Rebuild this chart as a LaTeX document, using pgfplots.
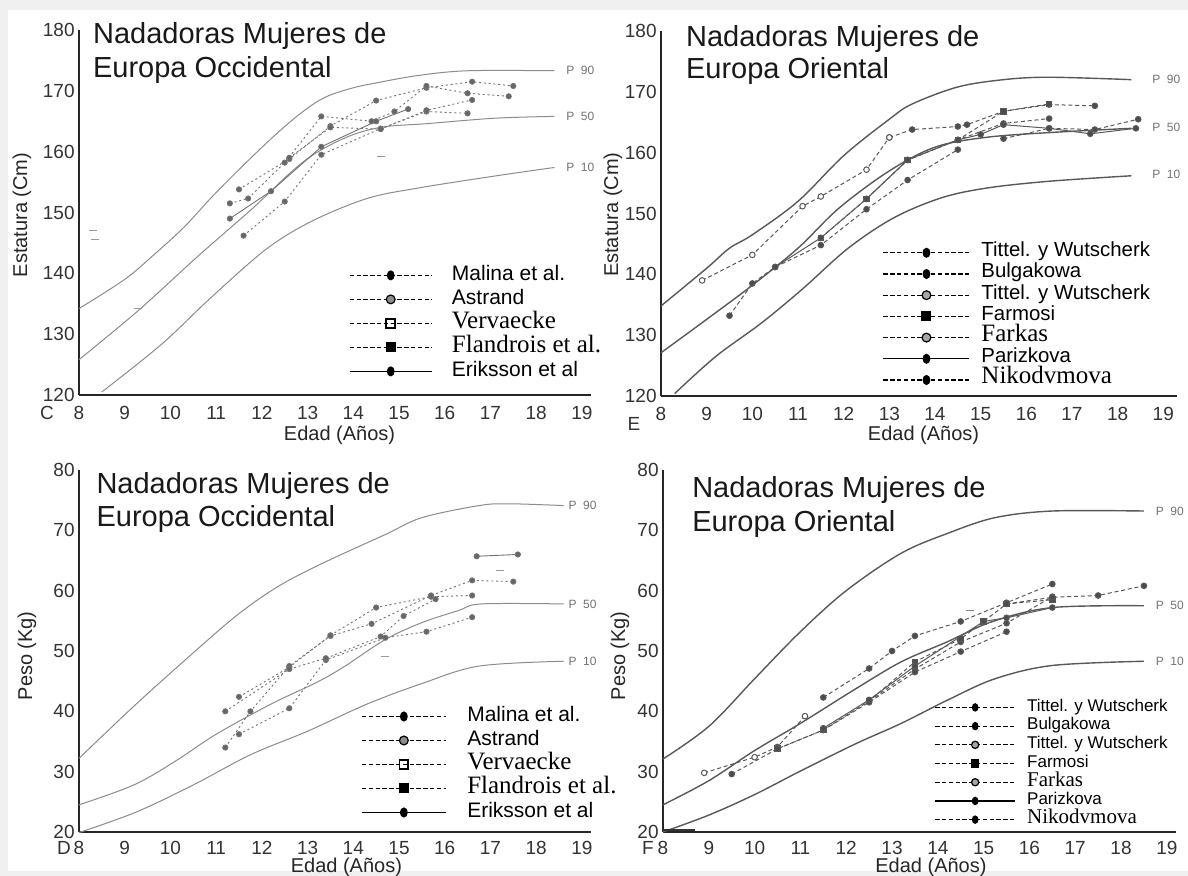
\documentclass[border=0pt]{standalone}
\usepackage{fontspec}
\setmainfont{Liberation Sans}
\newfontfamily\serifF{Liberation Serif}
\usepackage{pgfplots}
\pgfplotsset{compat=1.18}
\definecolor{bgframe}{HTML}{F0F0F0}
\newcommand{\fs}[1]{\fontsize{#1}{#1}\selectfont}
\tikzset{
  plab/.style={font=\fs{6}, text=black!55, anchor=west, inner sep=0pt},
  ttl/.style={font=\fs{14.5}, text=black!90, anchor=base west, inner sep=0pt},
  lett/.style={font=\fs{9.5}, text=black!80, anchor=center, inner sep=0pt},
}
\pgfplotsset{
  panel/.style={
    scale only axis, anchor=south west,
    axis x line=bottom, axis y line=left,
    axis line style={-, line width=1.1pt, black!85},
    xmin=8, xtick={8,...,19},
    major tick length=0pt,
    tick style={draw=none},
    tick label style={font=\fs{9.5}, text=black!80},
    xticklabel style={anchor=center, yshift=-9pt},
    yticklabel style={anchor=east, inner sep=0pt, xshift=-2pt},
    /pgf/number format/assume math mode=true,
    clip=false,
    label style={font=\fs{10}, text=black!85},
    legend cell align=left,
  },
  pctC/.style={black!45, line width=0.5pt, smooth, tension=0.55, forget plot},
  pctE/.style={black!65, line width=0.7pt, smooth, tension=0.55, forget plot},
  serC/.style={black!55, line width=0.45pt, dash pattern=on 1pt off 1.4pt, mark=*, mark size=1.3pt, mark options={solid, fill=black!60}, forget plot},
  serE/.style={black!65, line width=0.5pt, dash pattern=on 2pt off 1.4pt, mark=*, mark size=1.4pt, mark options={solid, fill=black!70}, forget plot},
  leg/.style={black, line width=0.6pt, dash pattern=on 2.2pt off 1.2pt, mark size=2.2pt, mark options={solid}},
  legs/.style={black, line width=0.6pt, mark size=2.2pt, mark options={solid}},
}
\begin{document}
\begin{tikzpicture}[x=1pt,y=1pt]
\fill[bgframe] (0,0) rectangle (594,438);
\fill[white] (4,2.5) rectangle (594,433);
\useasboundingbox (0,0) rectangle (594,438);

% ---------------- Panel C ----------------
\begin{axis}[panel, at={(39.5pt,240.5pt)}, width=256pt, height=182.5pt,
  xmax=19.2, ymin=120, ymax=180, ytick={120,130,...,180},
  xlabel={Edad (Años)}, ylabel={Estatura (Cm)},
  xlabel style={at={(axis cs:13.7,120)}, anchor=center, yshift=-20pt},
  ylabel style={at={(axis cs:6.75,149.6)}, anchor=center},
  legend style={at={(axis cs:13.9,141.7)}, anchor=north west, draw=none, fill=none, inner sep=0pt, row sep=0pt, font=\fs{10.5},
    nodes={inner sep=0pt, text height=8.4pt, text depth=3.6pt},
    /tikz/every odd column/.append style={column sep=9.8pt}},
  legend image code/.code={\draw[mark repeat=2,mark phase=2,#1] plot coordinates {(0pt,0pt)(20.5pt,0pt)(41pt,0pt)};},
]
\addplot[pctC] coordinates {(8,134.2)(9,139)(9.6,142.8)(10.3,147.6)(10.9,152.5)(11.6,157.8)(12.3,162.8)(12.9,166.6)(13.4,169)(14,170.5)(14.5,171.3)(15.4,172.5)(16.5,173.3)(18.4,173.3)};
\addplot[pctC] coordinates {(8,125.8)(9.3,133.9)(10.6,142.8)(11.8,150.7)(12.9,158.3)(13.8,162.2)(14.6,164)(15.6,164.6)(17.1,165.5)(18.4,165.8)};
\addplot[pctC] coordinates {(8.5,120.5)(9.8,128.3)(10.9,136.1)(12.1,144)(13.1,148.6)(14.3,152.3)(15.4,154)(17.1,156)(18.4,157.4)};
\addplot[serC] coordinates {(11.5,153.8)(12.6,158.8)(13.5,164.2)(14.5,168.4)(15.6,170.5)(16.6,171.5)(17.5,170.8)};
\addplot[serC] coordinates {(11.6,146.2)(12.5,151.8)(13.3,159.5)(14.6,163.8)(15.6,166.6)(16.5,166.3)};
\addplot[serC] coordinates {(11.3,151.5)(11.7,152.3)(12.5,158.2)(13.3,165.8)(14.4,165)(14.9,166.6)(15.6,170.8)(16.5,169.6)(17.4,169.1)};
\addplot[serC] coordinates {(12.6,159)(13.5,164)(14.6,163.7)(15.6,166.8)(16.6,168.5)};
\addplot[serC, solid] coordinates {(11.3,149)(12.2,153.5)(13.3,160.8)(14.5,165)(15.2,167)};
\addplot[black!40, only marks, mark=-, mark size=2pt, forget plot] coordinates {(8.3,147)(8.35,145.6)(9.3,134.3)(14.6,159.3)};
\node[plab] at (axis cs:18.65,173.3) {P\ \ 90};
\node[plab] at (axis cs:18.65,165.8) {P\ \ 50};
\node[plab] at (axis cs:18.65,157.4) {P\ \ 10};
\node[ttl] at (axis cs:8.3,177.7) {Nadadoras Mujeres de};
\node[ttl] at (axis cs:8.3,172.2) {Europa Occidental};
\node[lett] at (axis cs:7.3,120) [yshift=-9pt] {C};
\addlegendimage{leg, mark=*, mark options={solid, xscale=0.75}}
\addlegendentry{Malina et al.}
\addlegendimage{leg, mark=*, mark options={solid, fill=black!45}}
\addlegendentry{Astrand}
\addlegendimage{leg, mark=square, mark options={solid, line width=0.9pt}}
\addlegendentry{\fs{12.5}\serifF Vervaecke}
\addlegendimage{leg, mark=square*}
\addlegendentry{\fs{12.5}\serifF Flandrois et al.}
\addlegendimage{legs, mark=*, mark options={solid, xscale=0.75}}
\addlegendentry{Eriksson et al}
\end{axis}

% ---------------- Panel E ----------------
\begin{axis}[panel, at={(330.5pt,240pt)}, width=258pt, height=182.5pt,
  xmax=19.3, ymin=120, ymax=180, ytick={120,130,...,180},
  xlabel={Edad (Años)}, ylabel={Estatura (Cm)},
  xlabel style={at={(axis cs:13.75,120)}, anchor=center, yshift=-19.5pt},
  ylabel style={at={(axis cs:6.95,149.8)}, anchor=center},
  legend style={at={(axis cs:12.85,145.35)}, anchor=north west, draw=none, fill=none, inner sep=0pt, row sep=0pt, font=\fs{10.2},
    nodes={inner sep=0pt, text height=7.3pt, text depth=3.3pt},
    /tikz/every odd column/.append style={column sep=5.7pt}},
  legend image code/.code={\draw[mark repeat=2,mark phase=2,#1] plot coordinates {(0pt,0pt)(21.5pt,0pt)(43pt,0pt)};},
]
\addplot[pctE] coordinates {(8,134.8)(9,141)(9.5,144.3)(10,146.5)(11,152)(12,159.5)(13,165.5)(13.5,168)(14.5,170.8)(15.5,172)(16.5,172.4)(18.3,172)};
\addplot[pctE] coordinates {(8,127.1)(9,132.6)(10,138.2)(11,144.3)(11.9,150.9)(13,157)(14,160.9)(15.1,162.5)(16.5,163.3)(18.3,164)};
\addplot[pctE] coordinates {(8.3,120.4)(9.2,126.5)(10.2,132)(11.1,137.6)(12.1,144.3)(13.1,149.3)(14.15,152.6)(15.15,154.2)(16.5,155.3)(18.3,156.2)};
\addplot[serE] coordinates {(13,162.5)(13.5,163.8)(14.5,164.3)(14.7,164.6)(15.5,166.8)(16.5,167.9)(17.5,167.7)};
\addplot[serE] coordinates {(12.5,152.4)(13.4,158.8)(14.5,162.1)(15.5,164.8)(16.5,165.6)};
\addplot[serE, mark options={solid, fill=white}] coordinates {(8.9,139)(10,143.2)(11.1,151.2)(11.5,152.8)(12.5,157.2)(13,162.5)};
\addplot[serE, mark=square*] coordinates {(11.5,146)(12.5,152.4)(13.4,158.8)(14.5,162.1)(15.5,166.8)(16.5,168)};
\addplot[serE] coordinates {(9.5,133.2)(10,138.5)(10.5,141.2)(11.5,144.8)(12.5,150.7)(13.4,155.5)(14.5,160.5)};
\addplot[serE, solid] coordinates {(10.5,141.2)(11.5,146)(12.5,152.4)(13.4,158.8)(14.5,162.1)(15,163)(15.5,164.6)(16.5,164)(17.4,163.1)(18.4,164)};
\addplot[serE] coordinates {(15.5,162.3)(16.5,164)(17.5,163.8)(18.45,165.5)};
\node[plab] at (axis cs:18.75,172) {P\ \ 90};
\node[plab] at (axis cs:18.75,164.2) {P\ \ 50};
\node[plab] at (axis cs:18.75,156.5) {P\ \ 10};
\node[ttl] at (axis cs:8.54,177.5) {Nadadoras Mujeres de};
\node[ttl] at (axis cs:8.54,172.2) {Europa Oriental};
\node[lett] at (axis cs:7.41,120) [yshift=-14pt] {E};
\addlegendimage{leg, mark=*, mark options={solid, xscale=0.75}}
\addlegendentry{Tittel. y Wutscherk}
\addlegendimage{leg, mark=*, mark options={solid, xscale=0.75}}
\addlegendentry{Bulgakowa}
\addlegendimage{leg, mark=*, mark options={solid, fill=black!35}}
\addlegendentry{Tittel. y Wutscherk}
\addlegendimage{leg, mark=square*}
\addlegendentry{Farmosi}
\addlegendimage{leg, mark=*, mark options={solid, fill=black!35}}
\addlegendentry{\fs{12.5}\serifF Farkas}
\addlegendimage{legs, mark=*, mark options={solid, xscale=0.75}}
\addlegendentry{Parizkova}
\addlegendimage{leg, mark=*, mark options={solid, xscale=0.75}}
\addlegendentry{\fs{12.5}\serifF Nikodvmova}
\end{axis}

% ---------------- Panel D ----------------
\begin{axis}[panel, at={(39.5pt,22pt)}, width=256pt, height=181pt,
  xmax=19.2, ymin=20, ymax=80, ytick={20,30,...,80},
  xticklabel style={yshift=1pt},
  xlabel={Edad (Años)}, ylabel={Peso (Kg)},
  xlabel style={at={(axis cs:13.85,20)}, anchor=center, yshift=-17.5pt},
  ylabel style={at={(axis cs:6.86,49.2)}, anchor=center},
  legend style={at={(axis cs:14.17,41.2)}, anchor=north west, draw=none, fill=none, inner sep=0pt, row sep=0pt, font=\fs{10.5},
    nodes={inner sep=0pt, text height=8.4pt, text depth=3.6pt},
    /tikz/every odd column/.append style={column sep=10.5pt}},
  legend image code/.code={\draw[mark repeat=2,mark phase=2,#1] plot coordinates {(0pt,0pt)(20.9pt,0pt)(41.8pt,0pt)};},
]
\addplot[pctC] coordinates {(8,32.2)(9.25,41.2)(10.5,49.7)(11.5,56.2)(12.4,60.9)(13.4,64.8)(14.7,69.3)(15.5,72.1)(16.75,74.1)(17.4,74.4)(18.6,74.1)};
\addplot[pctC] coordinates {(8,24.5)(9.2,27.8)(10.1,31.7)(11,36.2)(12.2,41.2)(13.2,44.8)(13.8,47.4)(14.7,51.9)(15.5,54.7)(16.3,56.7)(16.8,57.8)(18.6,57.8)};
\addplot[pctC] coordinates {(8,19.9)(9.25,23.3)(10.5,27.8)(11.75,32.8)(13,36.7)(14.3,41.2)(15.5,44.6)(16.75,47.5)(18.6,48.3)};
\addplot[serC] coordinates {(11.5,42.4)(12.6,47.3)(13.5,52.6)(14.5,57.2)(15.7,59)(16.6,59.2)};
\addplot[serC] coordinates {(11.5,36.2)(12.6,40.5)(13.4,48.5)(14.7,52.2)(15.6,53.2)(16.6,55.6)};
\addplot[serC] coordinates {(11.2,34)(11.75,40)(12.6,47.5)(13.5,52.5)(14.4,54.5)(15.7,59.2)(16.6,61.7)(17.5,61.5)};
\addplot[serC] coordinates {(11.2,40)(12.6,47)(13.4,48.8)(14.6,52.4)(15.1,55.8)(15.8,58.6)};
\addplot[serC, solid] coordinates {(16.7,65.7)(17.6,66)};
\addplot[black!40, only marks, mark=-, mark size=2pt, forget plot] coordinates {(17.2,63.4)(14.7,49.1)};
\node[plab] at (axis cs:18.7,74.1) {P\ \ 90};
\node[plab] at (axis cs:18.7,57.8) {P\ \ 50};
\node[plab] at (axis cs:18.7,48.3) {P\ \ 10};
\node[ttl] at (axis cs:8.375,76.1) {Nadadoras Mujeres de};
\node[ttl] at (axis cs:8.375,70.7) {Europa Occidental};
\node[lett] at (axis cs:7.67,20) [yshift=-8pt] {D};
\addlegendimage{leg, mark=*, mark options={solid, xscale=0.75}}
\addlegendentry{Malina et al.}
\addlegendimage{leg, mark=*, mark options={solid, fill=black!45}}
\addlegendentry{Astrand}
\addlegendimage{leg, mark=square, mark options={solid, line width=0.9pt}}
\addlegendentry{\fs{12.5}\serifF Vervaecke}
\addlegendimage{leg, mark=square*}
\addlegendentry{\fs{12.5}\serifF Flandrois et al.}
\addlegendimage{legs, mark=*, mark options={solid, xscale=0.75}}
\addlegendentry{Eriksson et al}
\end{axis}

% ---------------- Panel F ----------------
\begin{axis}[panel, at={(331.5pt,22pt)}, width=256.5pt, height=181pt,
  xmax=19.2, ymin=20, ymax=80, ytick={20,30,...,80},
  xticklabel style={yshift=1pt},
  xlabel={Edad (Años)}, ylabel={Peso (Kg)},
  xlabel style={at={(axis cs:13.85,20)}, anchor=center, yshift=-17.5pt},
  ylabel style={at={(axis cs:7.06,49.2)}, anchor=center},
  legend style={at={(axis cs:13.92,42.26)}, anchor=north west, draw=none, fill=none, inner sep=0pt, row sep=0pt, font=\fs{8.5},
    nodes={inner sep=0pt, text height=6.6pt, text depth=2.75pt},
    /tikz/every odd column/.append style={column sep=5.7pt}},
  legend image code/.code={\draw[mark repeat=2,mark phase=2,#1] plot coordinates {(0pt,0pt)(20pt,0pt)(40pt,0pt)};},
]
\addplot[pctE] coordinates {(8,32.1)(9,37.5)(10,45.4)(11,53.2)(12,60)(13.2,66.2)(14.25,69.6)(15.25,72.1)(16.5,73.2)(18.5,73.2)};
\addplot[pctE] coordinates {(8,24.5)(9,28.5)(10,33.5)(11,38)(12.2,43.7)(13.2,48.2)(14.2,51.5)(15.2,54.9)(16.5,57.2)(18.5,57.5)};
\addplot[pctE] coordinates {(8,20)(9,22.8)(10,26.2)(11,30.1)(12.2,34.6)(13.2,38)(14.25,42)(15.25,45.4)(16.5,47.6)(18.5,48.3)};
\addplot[black!80, line width=1pt, forget plot] coordinates {(8,20.3)(8.7,20.3)};
\addplot[serE] coordinates {(11.5,42.3)(12.5,47.1)(13,50)(13.5,52.5)(14.5,54.9)(15.5,58)(16.5,61.1)};
\addplot[serE] coordinates {(12.5,41.7)(13.5,47)(14.5,51.5)(15.5,54.6)(16.5,59)};
\addplot[serE, mark options={solid, fill=white}] coordinates {(8.9,29.8)(10,32.4)(10.5,34.1)(11.1,39.2)};
\addplot[serE, mark=square*] coordinates {(10.5,33.8)(11.5,36.9)(12.5,41.7)(13.5,48.2)(14.5,52)(15,54.9)(15.5,57.8)(16.5,58.5)};
\addplot[serE] coordinates {(9.5,29.6)(10.5,33.8)(11.5,36.9)(12.5,41.5)(13.5,46.5)(14.5,49.9)(15.5,53.2)};
\addplot[serE, solid] coordinates {(11.5,37.2)(12.5,41.9)(13.5,47.5)(15,54.9)(15.5,55.5)(16.5,57.2)};
\addplot[serE] coordinates {(15.5,57.8)(16.5,58.9)(17.5,59.2)(18.5,60.8)};
\addplot[black!50, only marks, mark=-, mark size=2pt, forget plot] coordinates {(14.7,56.8)};
\node[plab] at (axis cs:18.75,73.2) {P\ \ 90};
\node[plab] at (axis cs:18.75,57.5) {P\ \ 50};
\node[plab] at (axis cs:18.75,48.3) {P\ \ 10};
\node[ttl] at (axis cs:8.63,75.5) {Nadadoras Mujeres de};
\node[ttl] at (axis cs:8.63,69.8) {Europa Oriental};
\node[lett] at (axis cs:7.67,20) [yshift=-8pt] {F};
\addlegendimage{leg, mark size=1.8pt, mark=*, mark options={solid, xscale=0.75}}
\addlegendentry{Tittel. y Wutscherk}
\addlegendimage{leg, mark size=1.8pt, mark=*, mark options={solid, xscale=0.75}}
\addlegendentry{Bulgakowa}
\addlegendimage{leg, mark size=1.8pt, mark=*, mark options={solid, fill=black!35}}
\addlegendentry{Tittel. y Wutscherk}
\addlegendimage{leg, mark size=1.8pt, mark=square*}
\addlegendentry{Farmosi}
\addlegendimage{leg, mark size=1.8pt, mark=*, mark options={solid, fill=black!35}}
\addlegendentry{\fs{10.5}\serifF Farkas}
\addlegendimage{legs, mark size=1.8pt, mark=*, mark options={solid, xscale=0.75}}
\addlegendentry{Parizkova}
\addlegendimage{leg, mark size=1.8pt, mark=*, mark options={solid, xscale=0.75}}
\addlegendentry{\fs{10.5}\serifF Nikodvmova}
\end{axis}
\end{tikzpicture}
\end{document}
